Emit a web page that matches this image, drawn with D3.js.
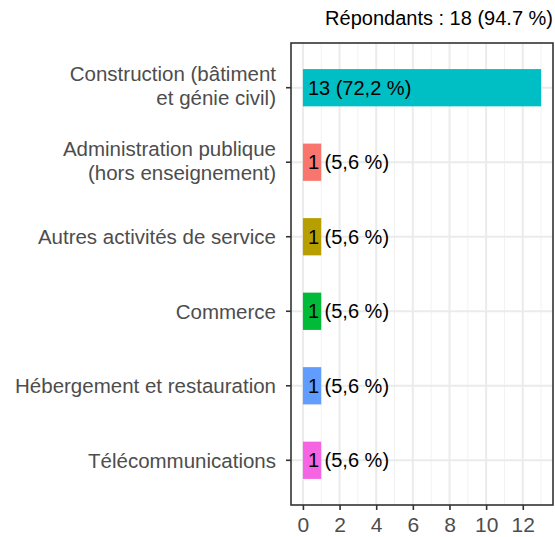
<!DOCTYPE html>
<html>
<head>
<meta charset="utf-8">
<script src="https://cdn.jsdelivr.net/npm/d3@7"></script>
<style>
  body { margin: 0; background: #fff; }
  svg { display: block; font-family: "Liberation Sans", Arial, sans-serif; }
</style>
</head>
<body>
<div id="chart"></div>
<script>
// données
const categories = [
    ["Construction (bâtiment", "et génie civil)"],
    ["Administration publique", "(hors enseignement)"],
    ["Autres activités de service"],
    ["Commerce"],
    ["Hébergement et restauration"],
    ["Télécommunications"]
];
const counts = [13, 1, 1, 1, 1, 1];
const labels = ["13 (72,2 %)", "1 (5,6 %)", "1 (5,6 %)", "1 (5,6 %)", "1 (5,6 %)", "1 (5,6 %)"];
const colors = ["#00BFC4", "#F8766D", "#B79F00", "#00BA38", "#619CFF", "#F564E3"];
const xTicks = [0, 2, 4, 6, 8, 10, 12];
const title = "Répondants : 18 (94.7 %)";

const W = 555, H = 537;
const panel = { left: 291, right: 553, top: 43, bottom: 505 };

const svg = d3.select("#chart").append("svg")
    .attr("width", W)
    .attr("height", H);

const x = d3.scaleLinear()
    .domain([-0.65, 13.65])
    .range([panel.left, panel.right]);

const y = d3.scaleLinear()
    .domain([0.4, 6.6])
    .range([panel.top, panel.bottom]);

const data = counts.map((v, i) => ({ i: i + 1, value: v, cat: categories[i], label: labels[i], color: colors[i] }));

// grille
const grid = svg.append("g");
d3.range(1, 14, 2).forEach(v => {
    grid.append("line")
        .attr("x1", x(v)).attr("x2", x(v))
        .attr("y1", panel.top).attr("y2", panel.bottom)
        .attr("stroke", "#F2F2F2").attr("stroke-width", 1);
});
xTicks.forEach(v => {
    grid.append("line")
        .attr("x1", x(v)).attr("x2", x(v))
        .attr("y1", panel.top).attr("y2", panel.bottom)
        .attr("stroke", "#EBEBEB").attr("stroke-width", 2);
});
data.forEach(d => {
    grid.append("line")
        .attr("x1", panel.left).attr("x2", panel.right)
        .attr("y1", y(d.i)).attr("y2", y(d.i))
        .attr("stroke", "#EBEBEB").attr("stroke-width", 2);
});

// barres
const bh = y(1.25) - y(1);
svg.selectAll("rect.bar")
    .data(data)
    .enter()
    .append("rect")
    .attr("class", "bar")
    .attr("x", x(0))
    .attr("y", d => y(d.i) - bh)
    .attr("width", d => x(d.value) - x(0))
    .attr("height", bh * 2)
    .attr("fill", d => d.color);

// étiquettes des barres
svg.selectAll("text.lab")
    .data(data)
    .enter()
    .append("text")
    .attr("class", "lab")
    .attr("x", x(0) + 5)
    .attr("y", d => y(d.i) + 7)
    .text(d => d.label)
    .style("font-size", "20px")
    .attr("fill", "#000");

// cadre
svg.append("rect")
    .attr("x", panel.left).attr("y", panel.top)
    .attr("width", panel.right - panel.left)
    .attr("height", panel.bottom - panel.top)
    .attr("fill", "none")
    .attr("stroke", "#333").attr("stroke-width", 1.6);

// axe X
const xAxis = svg.append("g")
    .attr("transform", `translate(0,${panel.bottom})`)
    .call(d3.axisBottom(x).tickValues(xTicks).tickSize(5).tickPadding(7));
xAxis.select(".domain").remove();
xAxis.selectAll("line").attr("stroke", "#333").attr("stroke-width", 1.6);
xAxis.selectAll("text")
    .attr("fill", "#4D4D4D")
    .style("font-size", "21px")
    .style("font-family", "'Liberation Sans', Arial, sans-serif");

// axe Y
const yAxis = svg.append("g");
data.forEach(d => {
    yAxis.append("line")
        .attr("x1", panel.left - 5).attr("x2", panel.left)
        .attr("y1", y(d.i)).attr("y2", y(d.i))
        .attr("stroke", "#333").attr("stroke-width", 1.6);
    const n = d.cat.length;
    const t = yAxis.append("text")
        .attr("text-anchor", "end")
        .attr("fill", "#4D4D4D")
        .style("font-size", "20.5px");
    d.cat.forEach((line, k) => {
        t.append("tspan")
            .attr("x", panel.left - 15)
            .attr("y", y(d.i) + 7.5 + (k - (n - 1) / 2) * 24 - (n > 1 ? 2 : 0))
            .text(line);
    });
});

// titre
svg.append("text")
    .attr("x", panel.right)
    .attr("y", 25)
    .attr("text-anchor", "end")
    .style("font-size", "20px")
    .attr("fill", "#000")
    .text(title);
</script>
</body>
</html>
